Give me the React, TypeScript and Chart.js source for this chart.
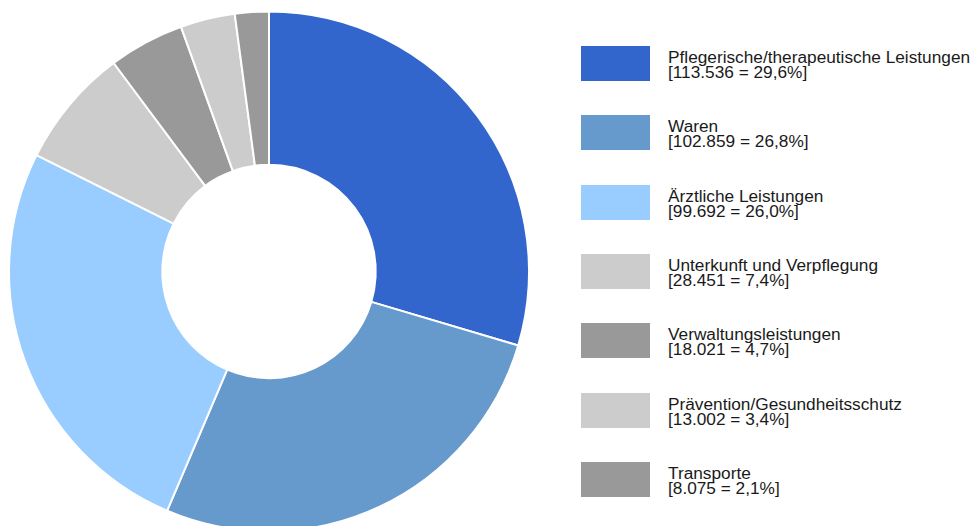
import React, { useEffect, useRef } from "react";
import { Chart, registerables } from "chart.js";

Chart.register(...registerables);

const categories = [
  "Pflegerische/therapeutische Leistungen",
  "Waren",
  "Ärztliche Leistungen",
  "Unterkunft und Verpflegung",
  "Verwaltungsleistungen",
  "Prävention/Gesundheitsschutz",
  "Transporte",
];
const values = [113536, 102859, 99692, 28451, 18021, 13002, 8075];
const valueLabels = ["113.536", "102.859", "99.692", "28.451", "18.021", "13.002", "8.075"];
const percentLabels = ["29,6%", "26,8%", "26,0%", "7,4%", "4,7%", "3,4%", "2,1%"];
const colors = ["#3366CC", "#6699CC", "#99CCFF", "#CCCCCC", "#999999", "#CCCCCC", "#999999"];

export default function App() {
  const ref = useRef<HTMLCanvasElement>(null);

  useEffect(() => {
    if (!ref.current) return;
    const chart = new Chart(ref.current, {
      type: "doughnut",
      data: {
        labels: categories,
        datasets: [
          {
            data: values,
            backgroundColor: colors,
            borderColor: "#ffffff",
            borderWidth: 2,
            clip: false as any,
          },
        ],
      },
      options: {
        responsive: false,
        animation: false,
        radius: 260,
        cutout: 110,
        events: [],
        layout: { padding: 0 },
        plugins: {
          legend: { display: false },
          tooltip: { enabled: false },
        },
      } as any,
    });
    return () => chart.destroy();
  }, []);

  return (
    <div
      style={{
        position: "fixed",
        left: 0,
        top: 0,
        width: 975,
        height: 526,
        overflow: "hidden",
        background: "#ffffff",
        fontFamily: "Arial, 'Liberation Sans', sans-serif",
      }}
    >
      <canvas
        ref={ref}
        width={538}
        height={543}
        style={{ position: "absolute", left: 0, top: 0, width: 538, height: 543 }}
      />
      {categories.map((c, i) => {
        const top = 46 + i * 69.33;
        return (
          <div key={c}>
            <div
              style={{
                position: "absolute",
                left: 581,
                top: top,
                width: 69,
                height: 35,
                background: colors[i],
              }}
            />
            <div
              style={{
                position: "absolute",
                left: 668,
                top: top + 4,
                fontSize: 17.25,
                lineHeight: "15px",
                color: "#1a1a1a",
                whiteSpace: "nowrap",
              }}
            >
              <div>{c}</div>
              <div>{"[" + valueLabels[i] + " = " + percentLabels[i] + "]"}</div>
            </div>
          </div>
        );
      })}
    </div>
  );
}
